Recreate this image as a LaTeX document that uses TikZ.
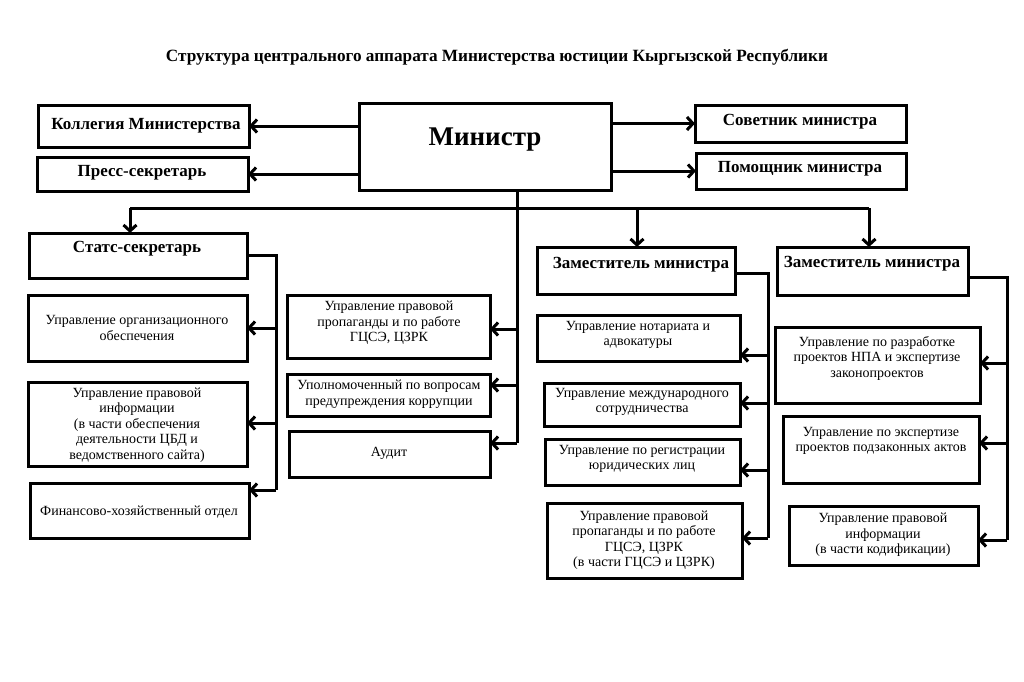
\documentclass[tikz,border=0pt]{standalone}
\usepackage{fontspec}
\setmainfont{Liberation Serif}
\usetikzlibrary{arrows.meta,calc}
\tikzset{
  box/.style={draw=black, line width=3pt, rectangle, inner sep=0pt, outer sep=0pt},
  lbl/.style={align=center, inner sep=0pt, font=\fontsize{14}{15.5}\selectfont},
  hd/.style={align=center, inner sep=0pt, font=\fontsize{17}{19}\selectfont\bfseries},
  conn/.style={line width=3pt, line join=miter},
  arr/.style={conn, -{Straight Barb[length=6pt,width=13pt,line width=3pt]}},
}
% \bx{name}{x1}{y1}{x2}{y2}
\newcommand\bx[5]{\node[box, minimum width={(#4-#2)*1pt}, minimum height={(#5-#3)*1pt}] (#1) at ({(#2+#4)/2},{(#3+#5)/2}) {};}
\begin{document}
\begin{tikzpicture}[x=1pt,y=-1pt]
\useasboundingbox[fill=white] (0,0) rectangle (1024,681);

\node[inner sep=0pt, font=\fontsize{17.2}{19}\selectfont\bfseries] (title) at (497,57) {Структура центрального аппарата Министерства юстиции Кыргызской Республики};

% top row
\bx{min}{359}{103}{611}{190}
\node[inner sep=0pt, font=\fontsize{27}{30}\selectfont\bfseries] (mint) at (485,140) {Министр};
\bx{kol}{38}{105}{249}{147}
\node[hd] (kolt) at (146,126) {Коллегия Министерства};
\bx{pre}{37}{157}{248}{191}
\node[hd] (pret) at (142,173) {Пресс-секретарь};
\bx{sov}{695}{105}{906}{142}
\node[hd] (sovt) at (800,122) {Советник министра};
\bx{pom}{696}{153}{906}{189}
\node[hd] (pomt) at (800,169) {Помощник министра};

\draw[arr] (min.west |- kol.east) -- (kol.east);
\draw[arr] (min.west |- pre.east) -- (pre.east);
\draw[arr] (min.east |- sov.west) -- (sov.west);
\draw[arr] (min.east |- pom.west) -- (pom.west);

% second level
\bx{sts}{29}{233}{247}{278}
\node[hd] (stst) at (137,249) {Статс-секретарь};
\bx{zm1}{537}{247}{735}{294}
\node[hd] (zm1t) at (641,265) {Заместитель министра};
\bx{zm2}{777}{247}{968}{295}
\node[hd] (zm2t) at (872,264) {Заместитель министра};

\coordinate (tr) at (517,208);
\coordinate (bl) at (130,208);
\coordinate (bm) at (637,208);
\coordinate (br) at (869,208);
\draw[conn] (bl) -- (br);
\draw[arr] (bl) -- (bl |- sts.north);
\draw[arr] (bm) -- (bm |- zm1.north);
\draw[arr] (br) -- (br |- zm2.north);

% left column
\bx{org}{28}{295}{247}{361}
\node[lbl] (orgt) at (137,328) {Управление организационного\\обеспечения};
\bx{inf}{28}{382}{247}{466}
\node[lbl] (inft) at (137,425) {Управление правовой\\информации\\(в части обеспечения\\деятельности ЦБД и\\ведомственного сайта)};
\bx{fin}{30}{483}{249}{538}
\node[lbl] (fint) at (139,512) {Финансово-хозяйственный отдел};

\coordinate (ls0) at (276,255);
\coordinate (ls1) at (276,328);
\coordinate (ls2) at (276,423);
\coordinate (ls3) at (276,490);
\draw[conn] (sts.east |- ls0) -- (ls0) -- (ls3);
\draw[arr] (ls1) -- (org.east |- ls1);
\draw[arr] (ls2) -- (inf.east |- ls2);
\draw[arr] (ls3) -- (fin.east |- ls3);

% middle column
\bx{prp}{287}{295}{490}{358}
\node[lbl] (prpt) at (389,323) {Управление правовой\\пропаганды и по работе\\ГЦСЭ, ЦЗРК};
\bx{upl}{287}{374}{490}{416}
\node[lbl] (uplt) at (389,394) {Уполномоченный по вопросам\\предупреждения коррупции};
\bx{aud}{289}{431}{490}{477}
\node[lbl] (audt) at (389,453) {Аудит};

\coordinate (ms1) at (517,329);
\coordinate (ms2) at (517,385);
\coordinate (ms3) at (517,443);
\draw[conn] (min.south -| tr) -- (ms3);
\draw[arr] (ms1) -- (prp.east |- ms1);
\draw[arr] (ms2) -- (upl.east |- ms2);
\draw[arr] (ms3) -- (aud.east |- ms3);

% deputy 1 column
\bx{not}{537}{315}{740}{361}
\node[lbl] (nott) at (638,335) {Управление нотариата и\\адвокатуры};
\bx{mez}{544}{383}{740}{426}
\node[lbl] (mezt) at (642,402) {Управление международного\\сотрудничества};
\bx{reg}{545}{439}{740}{485}
\node[lbl] (regt) at (642,459) {Управление по регистрации\\юридических лиц};
\bx{prq}{547}{503}{742}{578}
\node[lbl] (prqt) at (644,540) {Управление правовой\\пропаганды и по работе\\ГЦСЭ, ЦЗРК\\(в части ГЦСЭ и ЦЗРК)};

\coordinate (d10) at (768,273);
\coordinate (d11) at (768,355);
\coordinate (d12) at (768,403);
\coordinate (d13) at (768,470);
\coordinate (d14) at (768,538);
\draw[conn] (zm1.east |- d10) -- (d10) -- (d14);
\draw[arr] (d11) -- (not.east |- d11);
\draw[arr] (d12) -- (mez.east |- d12);
\draw[arr] (d13) -- (reg.east |- d13);
\draw[arr] (d14) -- (prq.east |- d14);

% deputy 2 column
\bx{raz}{775}{327}{980}{403}
\node[lbl] (razt) at (877,358) {Управление по разработке\\проектов НПА и экспертизе\\законопроектов};
\bx{eks}{783}{416}{979}{483}
\node[lbl] (ekst) at (881,441) {Управление по экспертизе\\проектов подзаконных актов};
\bx{kod}{789}{506}{978}{565}
\node[lbl] (kodt) at (883,535) {Управление правовой\\информации\\(в части кодификации)};

\coordinate (d20) at (1007,277);
\coordinate (d21) at (1007,363);
\coordinate (d22) at (1007,443);
\coordinate (d23) at (1007,540);
\draw[conn] (zm2.east |- d20) -- (d20) -- (d23);
\draw[arr] (d21) -- (raz.east |- d21);
\draw[arr] (d22) -- (eks.east |- d22);
\draw[arr] (d23) -- (kod.east |- d23);
\end{tikzpicture}
\end{document}
